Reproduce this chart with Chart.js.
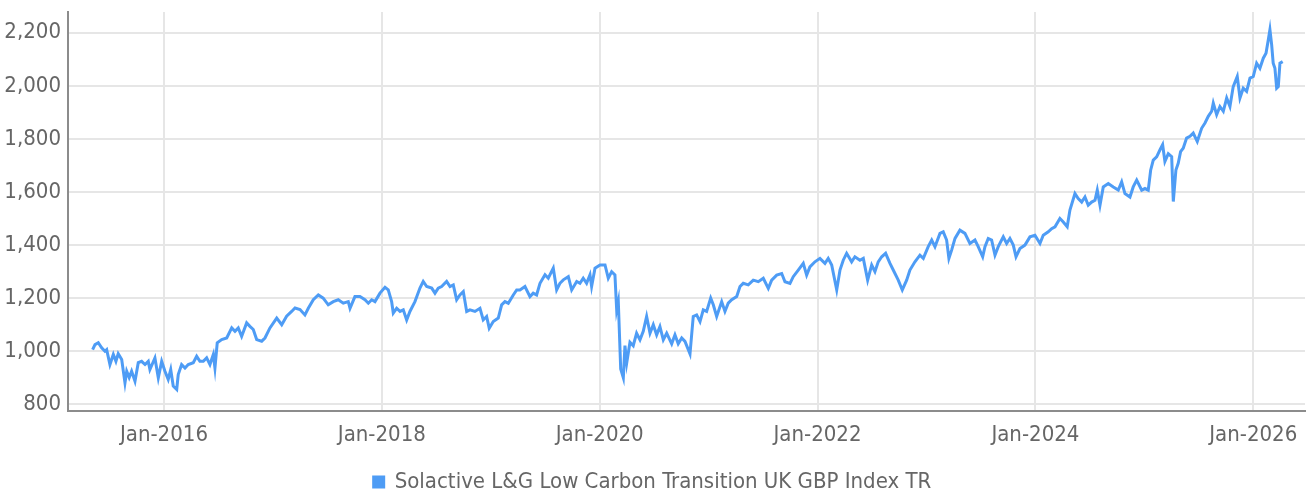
<!DOCTYPE html>
<html>
<head>
<meta charset="utf-8">
<script src="https://cdn.jsdelivr.net/npm/chart.js@4.4.1/dist/chart.umd.min.js"></script>
<style>
  html, body { margin: 0; padding: 0; background: #fff; }
  #wrap { width: 1306px; height: 496px; position: relative; }
</style>
</head>
<body>
<div id="wrap"><canvas id="grafico"></canvas></div>
<script>
// Serie: fecha (año decimal) y valor del índice
const fechas = [
  2015.345, 2015.367, 2015.397, 2015.428, 2015.458, 2015.474, 2015.504, 2015.535, 2015.559, 2015.580,
  2015.612, 2015.642, 2015.658, 2015.681, 2015.703, 2015.734, 2015.764, 2015.795, 2015.826, 2015.856,
  2015.871, 2015.917, 2015.948, 2015.979, 2016.009, 2016.039, 2016.062, 2016.085, 2016.117, 2016.131,
  2016.162, 2016.193, 2016.223, 2016.269, 2016.300, 2016.330, 2016.361, 2016.392, 2016.422, 2016.453,
  2016.468, 2016.489, 2016.530, 2016.576, 2016.622, 2016.652, 2016.682, 2016.713, 2016.759, 2016.789,
  2016.820, 2016.851, 2016.897, 2016.927, 2016.973, 2017.035, 2017.081, 2017.126, 2017.172, 2017.203,
  2017.249,
  2017.294, 2017.325, 2017.371, 2017.417, 2017.462, 2017.508, 2017.554, 2017.600, 2017.646, 2017.692,
  2017.708, 2017.753, 2017.799, 2017.845, 2017.876, 2017.907, 2017.937, 2017.983, 2018.029, 2018.059,
  2018.090, 2018.105, 2018.136, 2018.167, 2018.197, 2018.228, 2018.258, 2018.304, 2018.350, 2018.380,
  2018.412, 2018.458, 2018.488, 2018.518, 2018.549, 2018.595, 2018.626, 2018.656, 2018.687, 2018.717,
  2018.748, 2018.779, 2018.809, 2018.855, 2018.901, 2018.931, 2018.962, 2018.986, 2019.023, 2019.069,
  2019.100, 2019.130, 2019.161, 2019.207, 2019.238, 2019.268,
  2019.314, 2019.360, 2019.390, 2019.421, 2019.452, 2019.498, 2019.528, 2019.574, 2019.605, 2019.635,
  2019.666, 2019.712, 2019.743, 2019.789, 2019.819, 2019.849, 2019.880, 2019.911, 2019.926, 2019.957,
  2020.003, 2020.049, 2020.079, 2020.110, 2020.140, 2020.156, 2020.171, 2020.193, 2020.217, 2020.232,
  2020.248, 2020.278, 2020.308, 2020.339, 2020.370, 2020.400, 2020.431, 2020.462, 2020.492, 2020.523,
  2020.553, 2020.584, 2020.615, 2020.661, 2020.691, 2020.721, 2020.753, 2020.783, 2020.829, 2020.859,
  2020.890, 2020.921, 2020.951, 2020.982, 2021.019, 2021.043, 2021.074, 2021.120, 2021.150, 2021.180,
  2021.212, 2021.258, 2021.288,
  2021.318, 2021.364, 2021.410, 2021.456, 2021.502, 2021.548, 2021.579, 2021.625, 2021.671, 2021.701,
  2021.747, 2021.777, 2021.823, 2021.869, 2021.900, 2021.930, 2021.976, 2022.022, 2022.068, 2022.098,
  2022.130, 2022.176, 2022.206, 2022.236, 2022.267, 2022.313, 2022.343, 2022.389, 2022.420, 2022.460,
  2022.497, 2022.527, 2022.557, 2022.589, 2022.625, 2022.665, 2022.695, 2022.741, 2022.778, 2022.818,
  2022.848, 2022.894, 2022.940, 2022.971, 2023.016, 2023.048, 2023.078, 2023.124, 2023.154, 2023.185,
  2023.206, 2023.231, 2023.262, 2023.307,
  2023.353, 2023.399, 2023.445, 2023.475, 2023.516, 2023.537, 2023.567, 2023.598, 2023.629, 2023.659,
  2023.705, 2023.736, 2023.766, 2023.797, 2023.822, 2023.858, 2023.904, 2023.950, 2023.996, 2024.042,
  2024.072, 2024.118, 2024.149, 2024.180, 2024.225, 2024.256, 2024.292, 2024.317, 2024.363, 2024.393,
  2024.425, 2024.455, 2024.485, 2024.516, 2024.547, 2024.568, 2024.593, 2024.623, 2024.669, 2024.715,
  2024.761, 2024.792, 2024.822, 2024.868, 2024.898, 2024.930, 2024.976, 2025.006, 2025.036, 2025.058,
  2025.082, 2025.113, 2025.144, 2025.168, 2025.189, 2025.220, 2025.251, 2025.266, 2025.290, 2025.311,
  2025.333, 2025.357, 2025.388, 2025.419, 2025.449, 2025.486, 2025.526, 2025.557, 2025.587, 2025.618,
  2025.633, 2025.664, 2025.694, 2025.725, 2025.756, 2025.786, 2025.816, 2025.853, 2025.878, 2025.908,
  2025.939, 2025.970, 2026.000, 2026.031, 2026.061, 2026.092, 2026.117, 2026.138, 2026.153, 2026.169,
  2026.183, 2026.199, 2026.215, 2026.230, 2026.245, 2026.270
];

const valores = [
  1006, 1025, 1032, 1013, 1000, 1006, 950, 988, 962, 991,
  969, 881, 925, 901, 925, 887, 957, 962, 950, 962,
  931, 975, 900, 962, 925, 894, 931, 869, 856, 912,
  950, 937, 950, 957, 981, 962, 962, 975, 950, 988,
  937, 1032, 1044, 1050, 1088, 1075, 1088, 1056, 1107, 1094,
  1082, 1044, 1038, 1050, 1088, 1125, 1100, 1132, 1150, 1163,
  1157,
  1137, 1162, 1194, 1212, 1200, 1175, 1187, 1194, 1181, 1187,
  1162, 1206, 1206, 1194, 1181, 1194, 1187, 1219, 1241, 1231,
  1187, 1144, 1162, 1150, 1156, 1118, 1150, 1187, 1238, 1263,
  1244, 1238, 1219, 1238, 1244, 1263, 1244, 1250, 1194, 1212,
  1225, 1150, 1156, 1150, 1162, 1118, 1131, 1087, 1112, 1125,
  1175, 1187, 1181, 1212, 1231, 1231,
  1244, 1206, 1219, 1212, 1256, 1288, 1275, 1313, 1231, 1256,
  1269, 1281, 1231, 1263, 1256, 1275, 1256, 1288, 1244, 1313,
  1325, 1325, 1275, 1300, 1288, 1156, 1187, 933, 900, 1021,
  956, 1034, 1021, 1068, 1043, 1075, 1131, 1068, 1100, 1062,
  1093, 1043, 1068, 1028, 1062, 1028, 1050, 1037, 990, 1131,
  1137, 1112, 1156, 1150, 1200, 1175, 1131, 1187, 1150, 1181,
  1194, 1206, 1244,
  1256, 1250, 1268, 1262, 1275, 1237, 1268, 1287, 1293, 1262,
  1256, 1281, 1306, 1331, 1287, 1318, 1337, 1350, 1331, 1350,
  1325, 1231, 1306, 1343, 1369, 1337, 1356, 1343, 1350, 1268,
  1325, 1300, 1337, 1356, 1369, 1331, 1306, 1268, 1231, 1268,
  1306, 1337, 1362, 1350, 1394, 1419, 1394, 1444, 1450, 1419,
  1350, 1381, 1425, 1456,
  1444, 1406, 1419, 1394, 1356, 1394, 1425, 1419, 1362, 1394,
  1431, 1406, 1425, 1400, 1356, 1387, 1400, 1431, 1437, 1406,
  1437, 1450, 1462, 1469, 1500, 1487, 1469, 1532, 1594, 1575,
  1562, 1581, 1550, 1562, 1569, 1607, 1550, 1619, 1632, 1619,
  1607, 1638, 1594, 1581, 1619, 1645, 1607, 1613, 1607, 1682,
  1720, 1732, 1759, 1778, 1715, 1744, 1733, 1564, 1683, 1708,
  1752, 1765, 1803, 1810, 1822, 1790, 1840, 1860, 1885, 1904,
  1935, 1891, 1922, 1904, 1954, 1922, 1997, 2035, 1954, 1991,
  1979, 2029, 2035, 2085, 2066, 2104, 2123, 2173, 2211, 2154,
  2085, 2066, 1991, 1997, 2085, 2091
];

const añosEje = [2016, 2018, 2020, 2022, 2024, 2026];
const ticksY = [800, 1000, 1200, 1400, 1600, 1800, 2000, 2200];
const nombreSerie = 'Solactive L&G Low Carbon Transition UK GBP Index TR';

const AZUL = '#4e9cf5';
const GRIS_TEXTO = '#666666';
const FUENTE = "'Liberation Sans Narrow', 'DejaVu Sans Condensed', 'Roboto', sans-serif";

Chart.defaults.font.family = FUENTE;
Chart.defaults.font.size = 22;
Chart.defaults.color = GRIS_TEXTO;

const puntos = fechas.map((f, i) => ({ x: f, y: valores[i] }));

// Quitar el relleno automático que Chart.js deja para las etiquetas de los extremos
function sinRellenoEje(s) {
  s.paddingTop = 0;
  s.paddingBottom = 0;
  s.paddingLeft = 0;
  s.paddingRight = 0;
}

new Chart(document.getElementById('grafico'), {
  type: 'line',
  data: {
    datasets: [{
      label: nombreSerie,
      data: puntos,
      borderColor: AZUL,
      backgroundColor: AZUL,
      borderWidth: 3,
      pointRadius: 0,
      tension: 0
    }]
  },
  options: {
    responsive: true,
    maintainAspectRatio: false,
    animation: false,
    devicePixelRatio: 1,
    layout: { padding: { top: 12, right: 1, left: 0, bottom: -7 } },
    plugins: {
      tooltip: { enabled: false },
      legend: {
        position: 'bottom',
        labels: { boxWidth: 10, boxHeight: 10, padding: 0, color: GRIS_TEXTO, font: { size: 22 } }
      }
    },
    scales: {
      x: {
        type: 'linear',
        min: 2015.119,
        max: 2026.475,
        afterBuildTicks: (s) => { s.ticks = añosEje.map(v => ({ value: v })); },
        afterFit: (s) => { s.height = 60; sinRellenoEje(s); },
        ticks: {
          callback: (v) => 'Jan-' + v,
          padding: 11,
          maxRotation: 0,
          autoSkip: false,
          color: GRIS_TEXTO
        },
        grid: { color: '#e6e6e6', lineWidth: 2, drawTicks: false },
        border: { color: '#8c8c8c', width: 2 }
      },
      y: {
        min: 775,
        max: 2278,
        afterBuildTicks: (s) => { s.ticks = ticksY.map(v => ({ value: v })); },
        afterFit: (s) => { s.width = 68; sinRellenoEje(s); },
        ticks: {
          callback: (v) => v.toLocaleString('en-US'),
          padding: 7,
          color: GRIS_TEXTO
        },
        grid: { color: '#e6e6e6', lineWidth: 2, drawTicks: false },
        border: { color: '#8c8c8c', width: 2 }
      }
    }
  }
});
</script>
</body>
</html>
